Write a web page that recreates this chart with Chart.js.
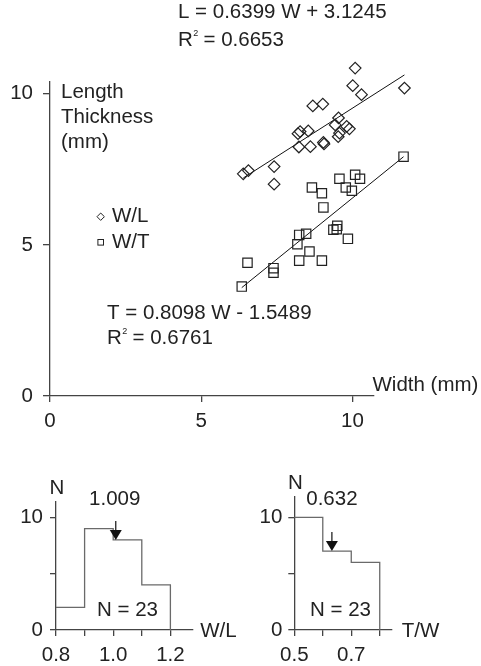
<!DOCTYPE html>
<html>
<head>
<meta charset="utf-8">
<script src="https://cdn.jsdelivr.net/npm/chart.js@4.4.1/dist/chart.umd.min.js"></script>
<style>
  html, body { margin: 0; padding: 0; background: #fff; }
  #wrap { position: relative; width: 481px; height: 666px; }
  #wrap canvas { position: absolute; left: 0; top: 0; }
</style>
</head>
<body>
<div id="wrap">
  <canvas id="mainChart" width="481" height="666"></canvas>
  <canvas id="wlChart" width="481" height="666"></canvas>
  <canvas id="twChart" width="481" height="666"></canvas>
</div>
<script>
"use strict";

/** DATA */

// W/L points: width (mm) vs length (mm)
const wlWidth  = [10.09, 10.01, 10.30, 11.72, 8.69, 9.02, 9.54, 8.27, 8.54, 9.43, 9.81, 9.90,
                  9.57, 8.23, 8.61, 9.04, 9.06, 7.41, 6.39, 6.56, 7.41, 8.20, 9.53];
const wlLength = [10.85, 10.27, 9.97, 10.19, 9.60, 9.66, 9.20, 8.75, 8.77, 8.97, 8.92, 8.84,
                  8.70, 8.24, 8.25, 8.39, 8.34, 7.59, 7.35, 7.46, 7.01, 8.68, 8.58];

// W/T points: width (mm) vs thickness (mm)
const wtWidth     = [11.69, 9.57, 10.09, 10.25, 9.78, 9.98, 8.66, 8.99, 9.04, 9.50, 9.37, 9.48,
                     9.85, 8.24, 8.47, 8.18, 8.58, 8.24, 8.99, 6.53, 7.39, 7.39, 6.34];
const wtThickness = [7.92, 7.19, 7.32, 7.19, 6.90, 6.79, 6.90, 6.71, 6.24, 5.63, 5.50, 5.52,
                     5.20, 5.33, 5.37, 5.02, 4.78, 4.48, 4.48, 4.41, 4.23, 4.08, 3.62];

// Regression coefficients [slope, intercept] and R²
const lengthFit = [0.6399, 3.1245];
const lengthR2 = 0.6653;
const thicknessFit = [0.8098, -1.5489];
const thicknessR2 = 0.6761;

// Histograms
const wlEdges  = [0.8, 0.9, 1.0, 1.1, 1.2];
const wlCounts = [2, 9, 8, 4];
const wlMean = 1.009;
const twEdges  = [0.5, 0.6, 0.7, 0.8];
const twCounts = [10, 7, 6];
const twMean = 0.632;

// Ticks
const mainTicks  = [0, 5, 10];
const countTicks = [0, 5, 10];
const wlTicks = [0.8, 0.9, 1.0, 1.1, 1.2];
const twTicks = [0.5, 0.6, 0.7, 0.8];


/** STYLE */

const FONT = '"Liberation Sans", Arial, Helvetica, sans-serif';
const FONT_SIZE = 20.5;
const TEXT = '#222';
const AXIS = '#444';
const HIST_LINE = '#6a6a6a';

Chart.defaults.font.family = FONT;
Chart.defaults.font.size = FONT_SIZE;
Chart.defaults.color = TEXT;

const fixedTicks = values => scale => { scale.ticks = values.map(v => ({ value: v })); };

const makeAxis = ({ min, max, ticks, size, sizeKey, tickLength, padding, label }) => ({
    type: 'linear',
    min: min,
    max: max,
    border: { display: true, color: AXIS, width: 1.3 },
    grid: { drawOnChartArea: false, drawTicks: true, tickLength: tickLength, color: AXIS, lineWidth: 1.3 },
    ticks: { padding: padding, autoSkip: false, maxRotation: 0, color: TEXT, callback: label },
    afterBuildTicks: fixedTicks(ticks),
    afterFit: scale => { scale[sizeKey] = size; }
});

const pointsOf = (xs, ys) => xs.map((x, i) => ({ x: x, y: ys[i] }));

const fitLine = (xs, fit) => {
    const lo = Math.min(...xs), hi = Math.max(...xs);
    return [lo, hi].map(x => ({ x: x, y: fit[0] * x + fit[1] }));
};

const formatFit = (name, fit) =>
    `${ name } = ${ fit[0].toFixed(4) } W ${ fit[1] < 0 ? '-' : '+' } ${ Math.abs(fit[1]).toFixed(4) }`;

const drawR2 = (ctx, x, y, r2) => {
    ctx.fillText('R', x, y);
    const w = ctx.measureText('R').width;
    ctx.save();
    ctx.font = `9px ${ FONT }`;
    ctx.fillText('2', x + w + 0.5, y - 6);
    ctx.restore();
    ctx.fillText(` = ${ r2.toFixed(4) }`, x + w + 5, y);
};


/** MAIN SCATTER CHART */

// Points past the axis ends are still drawn (the axes are shorter than the data)
const openAreaPlugin = {
    id: 'openArea',
    beforeDatasetsDraw(chart) {
        chart._savedArea = chart.chartArea;
        chart.chartArea = Object.assign({}, chart.chartArea, { top: 0, right: chart.width });
    },
    afterDatasetsDraw(chart) {
        chart.chartArea = chart._savedArea;
    }
};

const mainTextPlugin = {
    id: 'mainText',
    afterDraw(chart) {
        const ctx = chart.ctx;
        ctx.save();
        ctx.font = `${ FONT_SIZE }px ${ FONT }`;
        ctx.fillStyle = TEXT;
        ctx.textBaseline = 'middle';
        ctx.textAlign = 'left';

        // Length equation
        ctx.fillText(formatFit('L', lengthFit), 178, 12);
        drawR2(ctx, 178, 40, lengthR2);

        // Thickness equation
        ctx.fillText(formatFit('T', thicknessFit), 107, 313);
        drawR2(ctx, 107, 338, thicknessR2);

        // Axis titles
        ctx.fillText('Length', 61, 92);
        ctx.fillText('Thickness', 61, 117);
        ctx.fillText('(mm)', 61, 142);
        ctx.fillText('Width (mm)', 372.5, 385);

        // Legend
        ctx.strokeStyle = TEXT;
        ctx.lineWidth = 1;
        ctx.beginPath();
        ctx.moveTo(100.7, 213); ctx.lineTo(104.4, 216.7);
        ctx.lineTo(100.7, 220.4); ctx.lineTo(97, 216.7);
        ctx.closePath();
        ctx.stroke();
        ctx.strokeRect(97.9, 239.5, 5.6, 5.6);
        ctx.fillText('W/L', 112, 216);
        ctx.fillText('W/T', 112, 242);
        ctx.restore();
    }
};

const mainChart = new Chart(document.getElementById('mainChart').getContext('2d'), {
    type: 'scatter',
    data: {
        datasets: [{
            label: 'W/L',
            data: pointsOf(wlWidth, wlLength),
            pointStyle: 'rectRot',
            pointRadius: 5.8,
            borderColor: TEXT,
            backgroundColor: 'rgba(0,0,0,0)',
            borderWidth: 1.2,
            clip: false
        }, {
            label: 'W/T',
            data: pointsOf(wtWidth, wtThickness),
            pointStyle: 'rect',
            pointRadius: 6.6,
            borderColor: TEXT,
            backgroundColor: 'rgba(0,0,0,0)',
            borderWidth: 1.2,
            clip: false
        }, {
            type: 'line',
            label: 'L fit',
            data: fitLine(wlWidth, lengthFit),
            borderColor: '#111',
            borderWidth: 1,
            pointRadius: 0,
            clip: false
        }, {
            type: 'line',
            label: 'T fit',
            data: fitLine(wtWidth, thicknessFit),
            borderColor: '#111',
            borderWidth: 1,
            pointRadius: 0,
            clip: false
        }]
    },
    options: {
        responsive: false,
        animation: false,
        devicePixelRatio: 1,
        layout: { padding: { top: 81.7, right: 107.7, left: 0, bottom: 0 } },
        plugins: { legend: { display: false }, tooltip: { enabled: false } },
        scales: {
            x: makeAxis({ min: 0, max: 10.69, ticks: mainTicks, size: 270, sizeKey: 'height',
                          tickLength: 6, padding: 7, label: v => String(v) }),
            y: makeAxis({ min: 0, max: 10.4, ticks: mainTicks, size: 50, sizeKey: 'width',
                          tickLength: 7, padding: 10, label: v => String(v) })
        }
    },
    plugins: [openAreaPlugin, mainTextPlugin]
});


/** HISTOGRAMS */

const stepPoints = (edges, counts) => {
    const pts = counts.map((c, i) => ({ x: edges[i], y: c }));
    const last = edges[edges.length - 1];
    pts.push({ x: last, y: counts[counts.length - 1] });
    pts.push({ x: last, y: 0 });
    return pts;
};

const makeHistPlugin = (id, cfg) => ({
    id: id,
    afterDatasetsDraw(chart) {
        const ctx = chart.ctx;
        const xs = chart.scales.x, ys = chart.scales.y;
        const bin = Math.max(0, cfg.edges.findIndex(e => e > cfg.mean) - 1);
        const ax = xs.getPixelForValue(cfg.mean);
        const tip = ys.getPixelForValue(cfg.counts[bin]);

        ctx.save();
        // Mean arrow
        ctx.strokeStyle = '#111';
        ctx.fillStyle = '#111';
        ctx.lineWidth = 1.2;
        ctx.beginPath();
        ctx.moveTo(ax, tip - 19); ctx.lineTo(ax, tip - 10);
        ctx.stroke();
        ctx.beginPath();
        ctx.moveTo(ax - 6, tip - 10); ctx.lineTo(ax + 6, tip - 10); ctx.lineTo(ax, tip);
        ctx.closePath();
        ctx.fill();

        // Texts
        ctx.font = `${ FONT_SIZE }px ${ FONT }`;
        ctx.fillStyle = TEXT;
        ctx.textBaseline = 'middle';
        ctx.textAlign = 'center';
        ctx.fillText(cfg.mean.toFixed(3), ax + cfg.meanShift, 499);
        ctx.fillText('N', xs.left + 1, chart.chartArea.top - 13);
        ctx.textAlign = 'left';
        const total = cfg.counts.reduce((a, b) => a + b, 0);
        ctx.fillText(`N = ${ total }`, cfg.nX, 610);
        ctx.fillText(cfg.title, chart.chartArea.right + cfg.titleGap, 631);
        ctx.restore();
    }
});

const makeHist = (canvasId, cfg) => new Chart(document.getElementById(canvasId).getContext('2d'), {
    type: 'line',
    data: {
        datasets: [{
            data: stepPoints(cfg.edges, cfg.counts),
            stepped: true,
            borderColor: HIST_LINE,
            borderWidth: 1.3,
            pointRadius: 0,
            fill: false,
            clip: false
        }]
    },
    options: {
        responsive: false,
        animation: false,
        devicePixelRatio: 1,
        layout: { padding: cfg.padding },
        plugins: { legend: { display: false }, tooltip: { enabled: false } },
        scales: {
            x: makeAxis({ min: cfg.xMin, max: cfg.xMax, ticks: cfg.ticks, size: 36, sizeKey: 'height',
                          tickLength: 6, padding: 7,
                          label: (v, i) => i % 2 === 0 ? v.toFixed(1) : '' }),
            y: makeAxis({ min: 0, max: cfg.yMax, ticks: countTicks, size: 56, sizeKey: 'width',
                          tickLength: 6, padding: cfg.yPad,
                          label: v => v === 5 ? '' : String(v) })
        }
    },
    plugins: [makeHistPlugin(canvasId + 'Text', cfg)]
});

const wlChart = makeHist('wlChart', {
    edges: wlEdges, counts: wlCounts, mean: wlMean, ticks: wlTicks,
    xMin: 0.8, xMax: 1.278, yMax: 11.39, yPad: 7,
    padding: { top: 501.7, right: 288.3, left: 0, bottom: 0 },
    meanShift: -1, nX: 97, title: 'W/L', titleGap: 7.5
});

const twChart = makeHist('twChart', {
    edges: twEdges, counts: twCounts, mean: twMean, ticks: twTicks,
    xMin: 0.5, xMax: 0.842, yMax: 11.83, yPad: 6,
    padding: { top: 496.7, right: 89.3, left: 238.3, bottom: 0 },
    meanShift: 0, nX: 310, title: 'T/W', titleGap: 10
});
</script>
</body>
</html>
